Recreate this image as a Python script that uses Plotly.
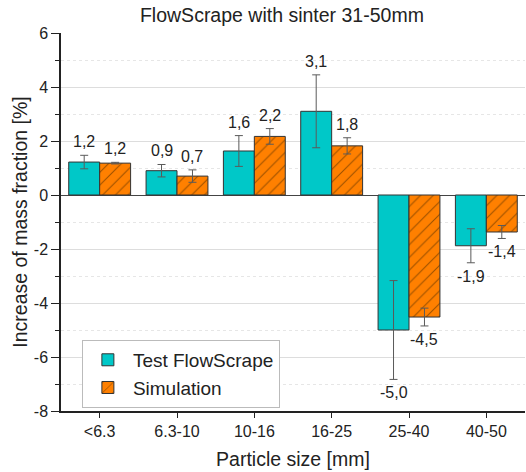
import plotly.graph_objects as go
import numpy as np

categories = ["<6.3", "6.3-10", "10-16", "16-25", "25-40", "40-50"]
test_values = [1.22, 0.90, 1.63, 3.10, -5.00, -1.88]
test_errors = [0.25, 0.23, 0.57, 1.35, 1.83, 0.63]
sim_values = [1.18, 0.70, 2.17, 1.82, -4.52, -1.37]
sim_errors = [0.03, 0.23, 0.29, 0.30, 0.33, 0.24]
test_labels = ["1,2", "0,9", "1,6", "3,1", "-5,0", "-1,9"]
sim_labels = ["1,2", "0,7", "2,2", "1,8", "-4,5", "-1,4"]
y_tickvals = [-8, -6, -4, -2, 0, 2, 4, 6]
y_ticktext = ["-8", "-6", "-4", "-2", "0", "2", "4", "6"]

FONT = "Liberation Sans, Arial, sans-serif"
TXT = "#222222"
x = np.arange(len(categories))

fig = go.Figure()
fig.add_trace(go.Bar(
    x=x, y=test_values, name="Test FlowScrape",
    marker=dict(color="#00C8C8", line=dict(color="#333333", width=1)),
    error_y=dict(type="data", array=test_errors, color="#5a5a5a", thickness=1, width=4),
))
fig.add_trace(go.Bar(
    x=x, y=sim_values, name="Simulation",
    marker=dict(color="#FF8000", line=dict(color="#333333", width=1),
                pattern=dict(shape="/", fgcolor="#3a2000", size=9, solidity=0.12, fillmode="overlay")),
    error_y=dict(type="data", array=sim_errors, color="#5a5a5a", thickness=1, width=4),
))

annotations = []
for i in range(len(categories)):
    for off, v, e, lab in ((-0.2, test_values[i], test_errors[i], test_labels[i]),
                           (0.2, sim_values[i], sim_errors[i], sim_labels[i])):
        if v >= 0:
            annotations.append(dict(x=x[i] + off, y=v + e, text=lab, xref="x", yref="y",
                                    showarrow=False, yanchor="bottom", yshift=3,
                                    font=dict(size=16, color=TXT, family=FONT)))
        else:
            annotations.append(dict(x=x[i] + off, y=v - e, text=lab, xref="x", yref="y",
                                    showarrow=False, yanchor="top", yshift=-3,
                                    font=dict(size=16, color=TXT, family=FONT)))

fig.update_layout(
    width=526, height=472,
    margin=dict(l=61, r=1, t=33, b=61),
    paper_bgcolor="white", plot_bgcolor="white",
    barmode="group", bargap=0.2, bargroupgap=0,
    font=dict(family=FONT, color=TXT, size=16),
    title=dict(text="FlowScrape with sinter 31-50mm", xref="container", x=0.536,
               xanchor="center", yref="container", y=1 - 15 / 472, yanchor="middle",
               font=dict(size=19.5, family=FONT, color=TXT)),
    annotations=annotations,
    legend=dict(x=0.045, y=0.188, xanchor="left", yanchor="top",
                bordercolor="#bbbbbb", borderwidth=1, bgcolor="white",
                font=dict(size=19, family=FONT, color=TXT), tracegroupgap=0, itemwidth=40),
    showlegend=True,
)
fig.update_xaxes(
    range=[-0.5, 5.5], tickvals=x, ticktext=categories,
    showline=True, linecolor="#222222", linewidth=1.5,
    ticks="outside", ticklen=5, tickcolor="#222222",
    showgrid=False, zeroline=False,
    tickfont=dict(size=16, family=FONT, color=TXT),
    title=dict(text="Particle size [mm]", font=dict(size=19.5, family=FONT, color=TXT), standoff=13),
)
fig.update_yaxes(
    range=[-8, 6], tickvals=y_tickvals, ticktext=y_ticktext,
    showline=True, linecolor="#222222", linewidth=1.5,
    ticks="outside", ticklen=8, tickcolor="#222222",
    showgrid=True, gridcolor="#dddddd", gridwidth=1,
    zeroline=True, zerolinecolor="#444444", zerolinewidth=1,
    minor=dict(dtick=1, tick0=1, ticks="outside", ticklen=4, tickcolor="#222222",
               showgrid=True, gridcolor="#e6e6e6", griddash="dot"),
    tickfont=dict(size=16, family=FONT, color=TXT),
    title=dict(text="Increase of mass fraction [%]", font=dict(size=19.5, family=FONT, color=TXT), standoff=1),
    automargin=False,
)

fig.write_html("out.html")
